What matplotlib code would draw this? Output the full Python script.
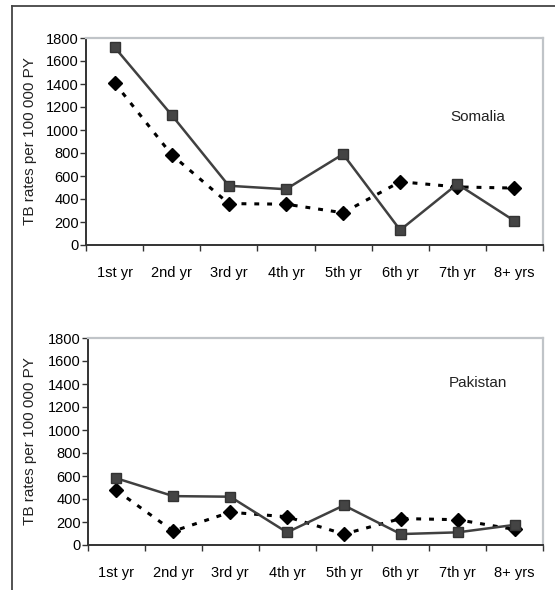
import matplotlib
matplotlib.use("Agg")
import matplotlib.pyplot as plt
from matplotlib.lines import Line2D
from matplotlib.ticker import FixedLocator, NullFormatter

plt.rcParams['font.family'] = ['Liberation Sans', 'DejaVu Sans']

years = ["1st yr", "2nd yr", "3rd yr", "4th yr", "5th yr", "6th yr", "7th yr", "8+ yrs"]

somalia_solid = [1720, 1130, 515, 485, 790, 130, 530, 210]
somalia_dotted = [1410, 785, 360, 355, 280, 550, 505, 495]

pakistan_solid = [580, 425, 420, 110, 345, 95, 110, 175]
pakistan_dotted = [475, 120, 285, 245, 95, 230, 220, 135]

panels = [
    ("Somalia", somalia_solid, somalia_dotted, [86 / 555, 1 - 245 / 590, 457 / 555, 207 / 590], 117),
    ("Pakistan", pakistan_solid, pakistan_dotted, [88 / 555, 1 - 545 / 590, 455 / 555, 207 / 590], 383),
]

FS = 10.5

fig = plt.figure(figsize=(5.55, 5.9), dpi=100)

# outer frame: top and left rules only
fig.add_artist(Line2D([12 / 555, 12 / 555], [0, 1 - 6 / 590], transform=fig.transFigure,
                      color="#444444", lw=1.3))
fig.add_artist(Line2D([12 / 555, 1], [1 - 6 / 590, 1 - 6 / 590], transform=fig.transFigure,
                      color="#444444", lw=1.3))

for name, solid, dotted, rect, label_y in panels:
    ax = fig.add_axes(rect)
    x = range(len(years))
    ax.plot(x, dotted, color="black", lw=2.2, ls=(0, (1.6, 2.6)),
            marker="D", markersize=7.5, markerfacecolor="black", markeredgecolor="black", zorder=3)
    ax.plot(x, solid, color="#404040", lw=1.8, ls="-",
            marker="s", markersize=7.5, markerfacecolor="#444444", markeredgecolor="#333333", zorder=4)

    ax.set_xlim(-0.5, len(years) - 0.5)
    ax.set_ylim(0, 1800)
    ax.set_yticks(range(0, 1801, 200))
    ax.tick_params(axis="y", direction="out", length=4, width=1, labelsize=FS, pad=1, color="#333333")

    # category labels centred, ticks on the boundaries
    ax.xaxis.set_major_locator(FixedLocator([i - 0.5 for i in range(len(years) + 1)]))
    ax.xaxis.set_major_formatter(NullFormatter())
    ax.xaxis.set_minor_locator(FixedLocator(list(x)))
    ax.set_xticklabels(years, minor=True)
    ax.tick_params(axis="x", which="major", direction="out", length=4, width=1, color="#333333")
    ax.tick_params(axis="x", which="minor", length=0, labelsize=FS, pad=15)

    for side in ("left", "bottom"):
        ax.spines[side].set_color("#333333")
        ax.spines[side].set_linewidth(1.4)
    for side in ("top", "right"):
        ax.spines[side].set_color("#c0c4c8")
        ax.spines[side].set_linewidth(1.6)

    ax.set_ylabel("TB rates per 100 000 PY", fontsize=FS + 0.5, color="#222222")
    ax.yaxis.set_label_coords(-(rect[0] * 555 - 37) / (rect[2] * 555), 0.5)

    fig.text(478 / 555, 1 - label_y / 590, name, ha="center", va="center", fontsize=FS + 0.5, color="#222222")

fig.savefig("out.png", dpi=100)
